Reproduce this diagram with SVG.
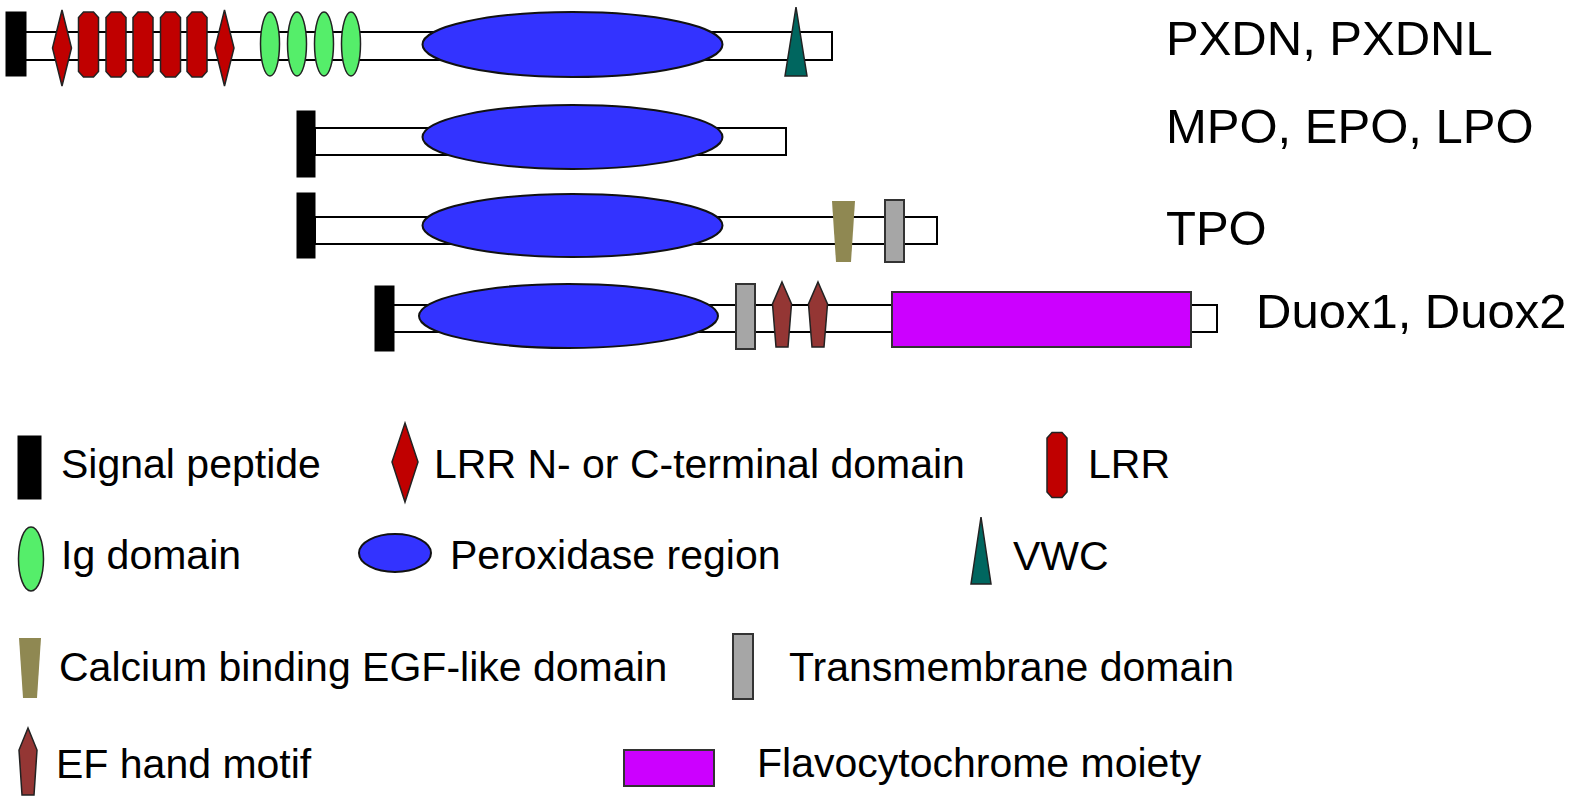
<svg xmlns="http://www.w3.org/2000/svg" xmlns:xlink="http://www.w3.org/1999/xlink" width="1577" height="804" viewBox="0 0 1577 804">
<style>
.bg{fill:#ffffff}
.bar{fill:#ffffff;stroke:#000;stroke-width:2}
.sig{fill:#000;stroke:#000;stroke-width:1}
.lrr{fill:#C00000;stroke:#222;stroke-width:1.5}
.ig{fill:#55EE6A;stroke:#222;stroke-width:1.5}
.perox{fill:#3333FF;stroke:#111;stroke-width:2}
.vwc{fill:#00665F;stroke:#222;stroke-width:1.5}
.egf{fill:#8F8852;stroke:none}
.tm{fill:#A6A6A6;stroke:#333;stroke-width:2}
.ef{fill:#943634;stroke:#222;stroke-width:1.5}
.flavo{fill:#CC00FF;stroke:#333;stroke-width:2}
.lbl{font-family:"Liberation Sans",Arial,sans-serif;font-size:49px;fill:#000}
.leg{font-family:"Liberation Sans",Arial,sans-serif;font-size:41px;fill:#000}
</style>
<defs>
<polygon id="lrrShape" points="-5,-32.5 5,-32.5 10,-27 10,27 5,32.5 -5,32.5 -10,27 -10,-27"/>
<polygon id="diaShape" points="0,-38 9.5,0 0,38 -9.5,0"/>
<polygon id="efShape" points="0,-33 9.5,-11 6,32 -6,32 -9.5,-11"/>
</defs>
<rect class="bg" x="0" y="0" width="1577" height="804"/>

<g id="pxdn">
<rect class="bar" x="25" y="32" width="807" height="28"/>
<rect class="sig" x="6" y="12" width="20" height="64"/>
<use xlink:href="#diaShape" class="lrr" x="62" y="48"/>
<use xlink:href="#lrrShape" class="lrr" x="88.5" y="44.5"/>
<use xlink:href="#lrrShape" class="lrr" x="116" y="44.5"/>
<use xlink:href="#lrrShape" class="lrr" x="143" y="44.5"/>
<use xlink:href="#lrrShape" class="lrr" x="170.5" y="44.5"/>
<use xlink:href="#lrrShape" class="lrr" x="197" y="44.5"/>
<use xlink:href="#diaShape" class="lrr" x="224.5" y="48"/>
<ellipse class="ig" cx="270" cy="44" rx="9.5" ry="32"/>
<ellipse class="ig" cx="297" cy="44" rx="9.5" ry="32"/>
<ellipse class="ig" cx="324" cy="44" rx="9.5" ry="32"/>
<ellipse class="ig" cx="351" cy="44" rx="9.5" ry="32"/>
<ellipse class="perox" cx="572.5" cy="44.5" rx="150" ry="32.5"/>
<polygon class="vwc" points="796,7 807,76 785,76"/>
<text class="lbl" x="1166" y="55">PXDN, PXDNL</text>
</g>

<g id="mpo">
<rect class="bar" x="315" y="128" width="471" height="27"/>
<rect class="sig" x="297" y="111" width="18" height="66"/>
<ellipse class="perox" cx="572.5" cy="137" rx="150" ry="32"/>
<text class="lbl" x="1166" y="143">MPO, EPO, LPO</text>
</g>

<g id="tpo">
<rect class="bar" x="315" y="217" width="622" height="27"/>
<rect class="sig" x="297" y="193" width="18" height="65"/>
<ellipse class="perox" cx="572.5" cy="225.5" rx="150" ry="31.5"/>
<polygon class="egf" points="832,201 855,201 851,262 836,262"/>
<rect class="tm" x="885" y="200" width="19" height="62"/>
<text class="lbl" x="1166" y="245">TPO</text>
</g>

<g id="duox">
<rect class="bar" x="393" y="305" width="824" height="27"/>
<rect class="sig" x="375" y="286" width="19" height="65"/>
<ellipse class="perox" cx="568.5" cy="316" rx="149.5" ry="32"/>
<rect class="tm" x="736" y="284" width="19" height="65"/>
<use xlink:href="#efShape" class="ef" x="782" y="315"/>
<use xlink:href="#efShape" class="ef" x="818" y="315"/>
<rect class="flavo" x="892" y="292" width="299" height="55"/>
<text class="lbl" x="1256" y="328">Duox1, Duox2</text>
</g>

<g id="legend-signal">
<rect class="sig" x="18" y="436" width="23" height="63"/>
<text class="leg" x="61" y="478">Signal peptide</text>
</g>
<g id="legend-lrrnc">
<polygon class="lrr" points="405,423 418,462 405,502 392,462"/>
<text class="leg" x="434" y="478">LRR N- or C-terminal domain</text>
</g>
<g id="legend-lrr">
<use xlink:href="#lrrShape" class="lrr" x="1057" y="465"/>
<text class="leg" x="1088" y="478">LRR</text>
</g>
<g id="legend-ig">
<ellipse class="ig" cx="31" cy="559" rx="12.5" ry="32"/>
<text class="leg" x="61" y="569">Ig domain</text>
</g>
<g id="legend-perox">
<ellipse class="perox" cx="395" cy="553" rx="36" ry="19"/>
<text class="leg" x="450" y="569">Peroxidase region</text>
</g>
<g id="legend-vwc">
<polygon class="vwc" points="981,517 991,584 971,584"/>
<text class="leg" x="1013" y="570">VWC</text>
</g>
<g id="legend-egf">
<polygon class="egf" points="19,638 41,638 37,698 23,698"/>
<text class="leg" x="59" y="681">Calcium binding EGF-like domain</text>
</g>
<g id="legend-tm">
<rect class="tm" x="733" y="634" width="20" height="65"/>
<text class="leg" x="789" y="681">Transmembrane domain</text>
</g>
<g id="legend-ef">
<polygon class="ef" points="28,728 37,750 34,795 22,795 19,750"/>
<text class="leg" x="56" y="778">EF hand motif</text>
</g>
<g id="legend-flavo">
<rect class="flavo" x="624" y="750" width="90" height="36"/>
<text class="leg" x="757" y="777">Flavocytochrome moiety</text>
</g>
</svg>
